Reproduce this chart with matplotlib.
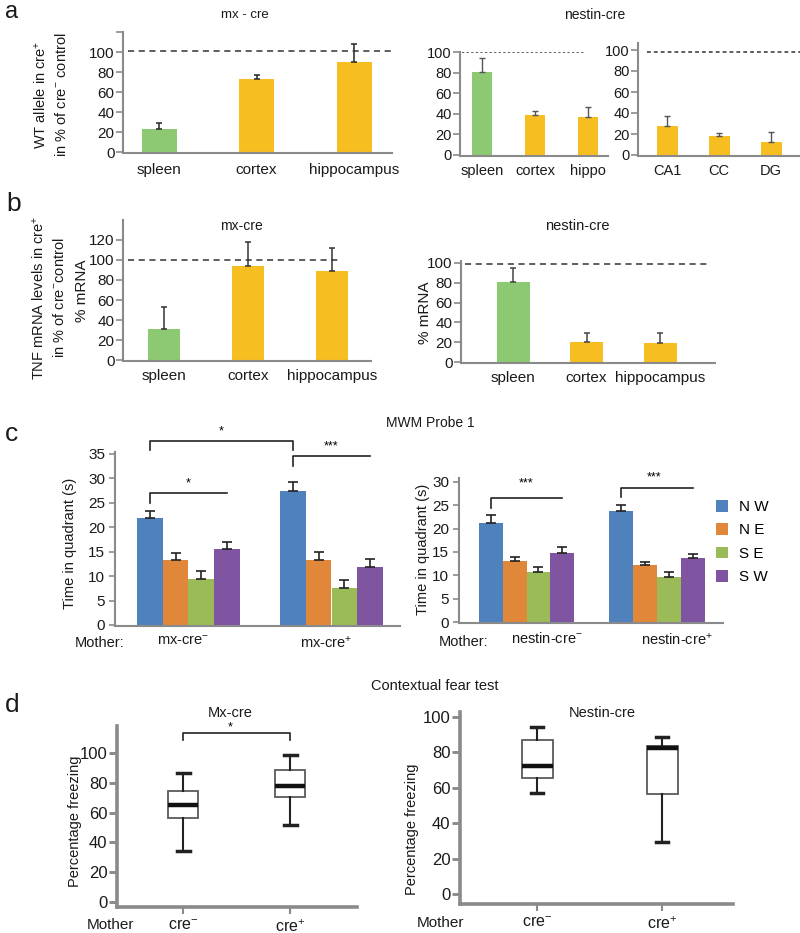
import matplotlib
matplotlib.use('Agg')
import matplotlib.pyplot as plt
import matplotlib.transforms as mtransforms
import numpy as np

plt.rcParams['font.family'] = ['Liberation Sans', 'DejaVu Sans']
plt.rcParams['mathtext.fontset'] = 'custom'
plt.rcParams['mathtext.rm'] = 'Liberation Sans'
plt.rcParams['mathtext.it'] = 'Liberation Sans:italic'
plt.rcParams['mathtext.bf'] = 'Liberation Sans:bold'

# ---------------- data ----------------
a_mx_cats = ['spleen', 'cortex', 'hippocampus']
a_mx_vals = [23, 73, 90]
a_mx_errs = [6, 4, 18]

a_ns_cats = ['spleen', 'cortex', 'hippo']
a_ns_vals = [81, 39, 37]
a_ns_errs = [13, 4, 9.5]

a_reg_cats = ['CA1', 'CC', 'DG']
a_reg_vals = [27.5, 18.4, 12]
a_reg_errs = [10, 2.2, 9.5]

b_mx_cats = ['spleen', 'cortex', 'hippocampus']
b_mx_vals = [31, 94, 89]
b_mx_errs = [22, 24, 23]

b_ns_cats = ['spleen', 'cortex', 'hippocampus']
b_ns_vals = [81, 20.5, 19]
b_ns_errs = [13.5, 8.5, 10.5]

quadrants = ['N W', 'N E', 'S E', 'S W']
c_mx_groups = ['mx-cre$^{-}$', 'mx-cre$^{+}$']
c_mx_means = [[21.9, 13.3, 9.5, 15.6], [27.5, 13.3, 7.5, 11.9]]
c_mx_sems = [[1.5, 1.5, 1.5, 1.4], [1.7, 1.7, 1.7, 1.5]]
c_ns_groups = ['nestin-cre$^{-}$', 'nestin-cre$^{+}$']
c_ns_means = [[21.3, 13.0, 10.6, 14.7], [23.7, 12.1, 9.7, 13.6]]
c_ns_sems = [[1.6, 1.0, 1.2, 1.4], [1.4, 0.7, 0.9, 1.0]]

d_groups = ['cre$^{-}$', 'cre$^{+}$']
d_mx_whislo = [34.4, 52.0]
d_mx_q1 = [56.6, 70.7]
d_mx_med = [65.0, 77.9]
d_mx_q3 = [74.5, 88.6]
d_mx_whishi = [86.6, 98.4]
d_ns_whislo = [57.0, 29.5]
d_ns_q1 = [65.7, 56.5]
d_ns_med = [72.5, 82.5]
d_ns_q3 = [87.0, 83.6]
d_ns_whishi = [94.4, 88.7]

# ---------------- style ----------------
GREEN = '#8DC973'
YELLOW = '#F7BE22'
QCOL = ['#4F81BD', '#E0873A', '#9BBB59', '#7F55A2']
SPINE = '#8a8a8a'

W, H = 800, 933
fig = plt.figure(figsize=(8, 9.33), dpi=100)


def px_axes(L, T, R, B):
    ax = fig.add_axes([L / W, 1 - B / H, (R - L) / W, (B - T) / H])
    ax.patch.set_alpha(0)
    return ax


def calib(ax, L, T, R, B, y0, s, c0, d):
    ax.set_ylim((y0 - B) / s, (y0 - T) / s)
    ax.set_xlim((L - c0) / d, (R - c0) / d)


def style(ax, lw=1.5, ticklen=5, labelsize=11, pad=1):
    for sp in ['top', 'right']:
        ax.spines[sp].set_visible(False)
    for sp in ['left', 'bottom']:
        ax.spines[sp].set_color(SPINE)
        ax.spines[sp].set_linewidth(lw)
    ax.tick_params(axis='y', direction='out', length=ticklen, width=lw * 0.8,
                   color=SPINE, labelsize=labelsize, pad=pad, labelcolor='#1a1a1a')


def ftext(x, y, s, size=10.5, **kw):
    kw.setdefault('ha', 'center')
    kw.setdefault('va', 'center')
    fig.text(x / W, 1 - y / H, s, fontsize=size, color='#1a1a1a', **kw)


def bar_panel(L, T, R, B, y0, s, c0, d, wpx, cats, vals, errs, colors,
              yticks, ylabels, ref, ref_x0, ref_x1, ref_ls, labelsize=11,
              xpad=7, errc='#333', elw=1.2):
    ax = px_axes(L, T, R, B)
    calib(ax, L, T, R, B, y0, s, c0, d)
    x = np.arange(len(cats))
    ax.bar(x, vals, width=wpx / d, color=colors, edgecolor='none', zorder=2)
    ax.errorbar(x, vals, yerr=[np.zeros(len(x)), errs], fmt='none', ecolor=errc,
                elinewidth=elw, capsize=2.5, capthick=elw, zorder=3)
    ax.axhline(ref, xmin=(ref_x0 - L) / (R - L), xmax=(ref_x1 - L) / (R - L),
               color='#333', lw=1.1, ls=ref_ls, zorder=1)
    style(ax, labelsize=labelsize)
    ax.set_yticks(yticks)
    ax.set_yticklabels(ylabels)
    ax.set_xticks(x)
    ax.set_xticklabels(cats, fontsize=labelsize, color='#1a1a1a')
    ax.tick_params(axis='x', length=0, pad=xpad)
    return ax


# ---------------- panel a ----------------
bar_panel(123, 32, 392, 153, 152, 1.0, 159, 97.5, 35, a_mx_cats, a_mx_vals, a_mx_errs,
          [GREEN, YELLOW, YELLOW], [0, 20, 40, 60, 80, 100, 120],
          ['0', '20', '40', '60', '80', '100', ''], 101, 128, 392, (0, (4, 3)))
bar_panel(460, 52, 608, 156, 155, 1.03, 482.5, 52.5, 20, a_ns_cats, a_ns_vals, a_ns_errs,
          [GREEN, YELLOW, YELLOW], [0, 20, 40, 60, 80, 100],
          ['0', '20', '40', '60', '80', '100'], 100, 462, 585, (0, (1.5, 1.5)),
          labelsize=10.5, xpad=6, errc='#555', elw=1.0)
bar_panel(638, 43, 800, 156, 155, 1.05, 667, 52, 21, a_reg_cats, a_reg_vals, a_reg_errs,
          [YELLOW, YELLOW, YELLOW], [0, 20, 40, 60, 80, 100],
          ['0', '20', '40', '60', '80', '100'], 98, 647, 800, (0, (2.5, 2)),
          labelsize=10.5, xpad=6, errc='#555', elw=1.0)

ftext(12, 18, 'a', size=17, va='baseline')
ftext(245, 15, 'mx - cre', size=9.5)
ftext(595, 15, 'nestin-cre', size=10)
ftext(51, 95, 'WT allele in cre$^{+}$\nin % of cre$^{-}$ control', size=10.5,
      rotation=90, linespacing=1.45)

# ---------------- panel b ----------------
bar_panel(123, 220, 371, 361, 360, 1.0, 164, 84, 32, b_mx_cats, b_mx_vals, b_mx_errs,
          [GREEN, YELLOW, YELLOW], [0, 20, 40, 60, 80, 100, 120],
          ['0', '20', '40', '60', '80', '100', '120'], 100, 128, 340, (0, (4, 3)),
          labelsize=11, xpad=6, errc='#333', elw=1.1)
bar_panel(461, 261, 715, 363, 362, 0.99, 513, 73.5, 33, b_ns_cats, b_ns_vals, b_ns_errs,
          [GREEN, YELLOW, YELLOW], [0, 20, 40, 60, 80, 100],
          ['0', '20', '40', '60', '80', '100'], 99, 465, 708, (0, (4, 3)),
          labelsize=11, xpad=6, errc='#444', elw=1.1)

ftext(14, 204, 'b', size=19)
ftext(241, 226, 'mx-cre', size=10)
ftext(577, 226, 'nestin-cre', size=10.5)
ftext(49, 298, 'TNF mRNA levels in cre$^{+}$\nin % of cre$^{-}$control', size=10.5,
      rotation=90, linespacing=1.45)
ftext(82, 291, '% mRNA', size=11, rotation=90)
ftext(425, 313, '% mRNA', size=11, rotation=90)


# ---------------- panel c ----------------
def grouped(L, T, R, B, y0, s, gc0, gd, bw_px, means, sems, groups, yticks, lab_dx):
    ax = px_axes(L, T, R, B)
    calib(ax, L, T, R, B, y0, s, gc0, gd)
    means = np.array(means)
    sems = np.array(sems)
    bw = bw_px / gd
    gx = np.arange(len(groups))
    for j in range(len(quadrants)):
        xs = gx + (j - 1.5) * bw
        ax.bar(xs, means[:, j], width=bw, color=QCOL[j], edgecolor='none',
               label=quadrants[j], zorder=2)
        ax.errorbar(xs, means[:, j], yerr=[np.zeros(len(gx)), sems[:, j]], fmt='none',
                    ecolor='#222', elinewidth=1.2, capsize=3.5, capthick=1.2, zorder=3)
    style(ax, labelsize=11, ticklen=4, pad=3)
    ax.set_yticks(yticks)
    ax.set_xticks(gx)
    ax.set_xticklabels(groups, fontsize=10.5, color='#1a1a1a')
    ax.tick_params(axis='x', length=0, pad=6)
    off = mtransforms.ScaledTranslation(lab_dx / 100, 0, fig.dpi_scale_trans)
    for lab in ax.get_xticklabels():
        lab.set_transform(lab.get_transform() + off)
    return ax, bw


def bracket(ax, xa, xb, y, ya, yb, clr='#222'):
    ax.plot([xa, xa, xb, xb], [ya, y, y, yb], color=clr, lw=1.2, clip_on=False, zorder=4)


axc1, bw1 = grouped(115, 452, 400, 626, 625, 4.89, 188.5, 143, 25.8,
                    c_mx_means, c_mx_sems, c_mx_groups, [0, 5, 10, 15, 20, 25, 30, 35], -5)
bracket(axc1, -1.5 * bw1, 1 - 1.5 * bw1, 37.6, 35.8, 35.8)
axc1.text(0.5 - 1.5 * bw1, 39.6, '*', ha='center', va='center', fontsize=9)
bracket(axc1, 1 - 1.5 * bw1, 1 + 1.5 * bw1, 34.6, 32.5, 34.6)
axc1.text(1, 36.6, '***', ha='center', va='center', fontsize=9)
bracket(axc1, -1.5 * bw1, 1.5 * bw1, 27.0, 24.9, 27.0)
axc1.text(0, 28.9, '*', ha='center', va='center', fontsize=9)

axc2, bw2 = grouped(459, 478, 723, 623, 622, 4.67, 526.5, 130.5, 23.9,
                    c_ns_means, c_ns_sems, c_ns_groups, [0, 5, 10, 15, 20, 25, 30], 20)
bracket(axc2, -1.5 * bw2, 1.5 * bw2, 26.6, 24.4, 26.6)
axc2.text(0, 29.6, '***', ha='center', va='center', fontsize=9)
bracket(axc2, 1 - 1.5 * bw2, 1 + 1.5 * bw2, 28.7, 26.8, 28.7)
axc2.text(1 - 0.02, 30.9, '***', ha='center', va='center', fontsize=9)

handles, labels = axc2.get_legend_handles_labels()
fig.legend(handles, labels, loc='upper left', bbox_to_anchor=(716 / W, 1 - 500 / H),
           frameon=False, fontsize=11, handlelength=0.8, handleheight=0.8,
           handletextpad=0.7, labelspacing=0.6, borderaxespad=0, borderpad=0)

ftext(12, 434, 'c', size=19)
ftext(430, 423, 'MWM Probe 1', size=10)
ftext(70, 543, 'Time in quadrant (s)', size=10.5, rotation=90)
ftext(423, 549, 'Time in quadrant (s)', size=10.5, rotation=90)
ftext(100, 643, 'Mother:', size=10.5)
ftext(464, 642, 'Mother:', size=10.5)


# ---------------- panel d ----------------
def box_panel(L, T, R, B, y0, s, c0, d, wpx, capw, lo, q1, med, q3, hi):
    ax = px_axes(L, T, R, B)
    calib(ax, L, T, R, B, y0, s, c0, d)
    stats = [dict(whislo=lo[i], q1=q1[i], med=med[i], q3=q3[i], whishi=hi[i], fliers=[])
             for i in range(len(d_groups))]
    ax.bxp(stats, positions=np.arange(len(d_groups)), widths=wpx / d, showfliers=False,
           patch_artist=True, capwidths=capw / d,
           boxprops=dict(facecolor='white', edgecolor='#5a5a5a', linewidth=1.3),
           medianprops=dict(color='#111', linewidth=3.2),
           whiskerprops=dict(color='#222', linewidth=1.5),
           capprops=dict(color='#222', linewidth=2.5))
    style(ax, lw=2.6, ticklen=6, labelsize=12, pad=1)
    ax.set_yticks([0, 20, 40, 60, 80, 100])
    ax.set_xticks(np.arange(len(d_groups)))
    ax.set_xticklabels(d_groups, fontsize=11.5, color='#1a1a1a')
    ax.tick_params(axis='x', direction='out', length=5, width=1.5, color=SPINE, pad=3)
    calib(ax, L, T, R, B, y0, s, c0, d)
    return ax


axd1 = box_panel(117, 726, 357, 907, 902, 1.49, 183, 107, 30, 13,
                 d_mx_whislo, d_mx_q1, d_mx_med, d_mx_q3, d_mx_whishi)
bracket(axd1, 0, 1, 113.4, 108.7, 108.7)
axd1.text(0.44, 117.0, '*', ha='center', va='center', fontsize=9)

axd2 = box_panel(460, 712, 733, 904, 894, 1.77, 537, 125, 31, 12,
                 d_ns_whislo, d_ns_q1, d_ns_med, d_ns_q3, d_ns_whishi)

ftext(12, 705, 'd', size=19)
ftext(435, 686, 'Contextual fear test', size=10.5)
ftext(230, 713, 'Mx-cre', size=10.5)
ftext(602, 713, 'Nestin-cre', size=10.5)
ftext(75, 821, 'Percentage freezing', size=10.5, rotation=90)
ftext(412, 829, 'Percentage freezing', size=10.5, rotation=90)
ftext(110, 925, 'Mother', size=11)
ftext(441, 923, 'Mother', size=11)

fig.savefig('out.png', dpi=100)
